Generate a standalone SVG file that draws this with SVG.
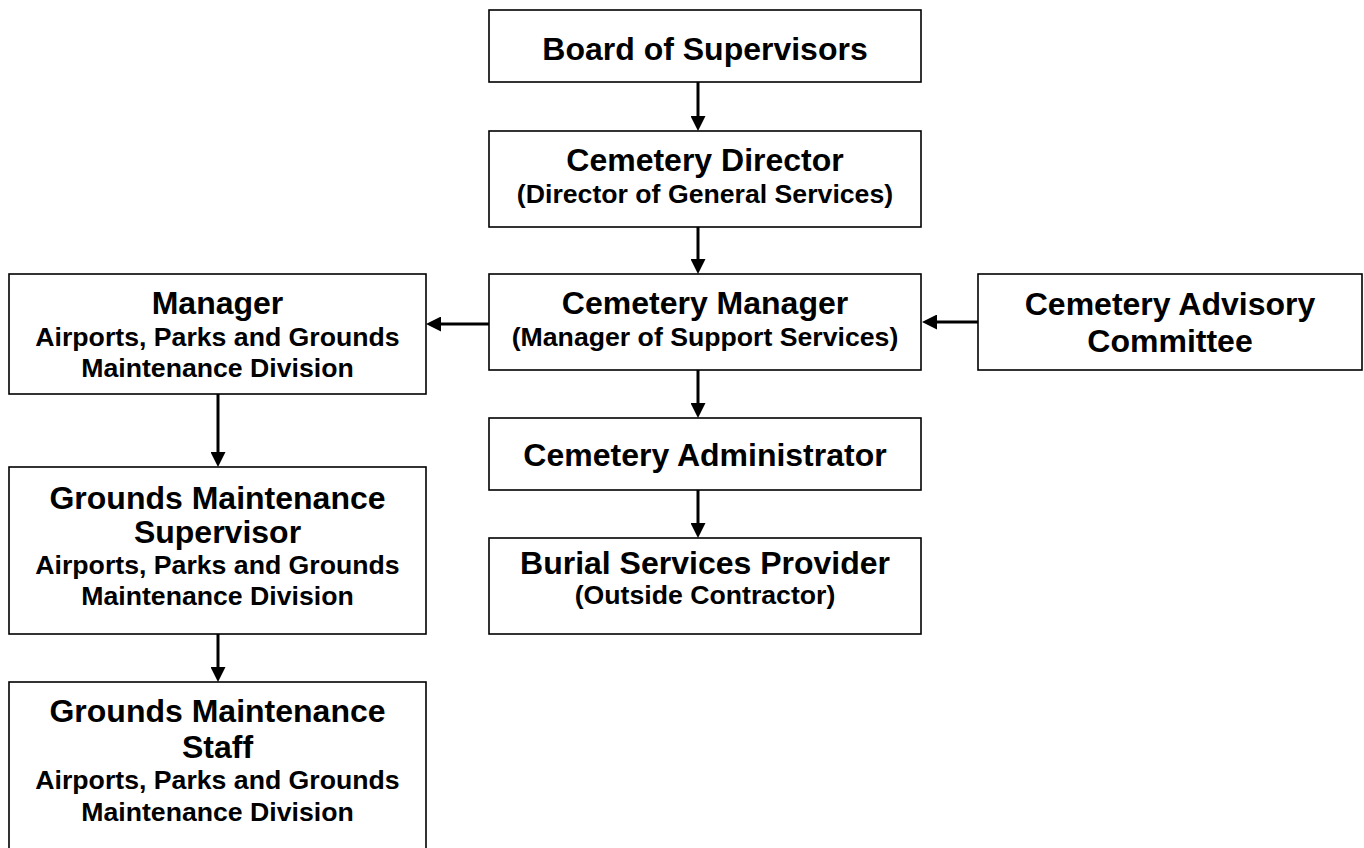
<svg xmlns="http://www.w3.org/2000/svg" width="1364" height="848" viewBox="0 0 1364 848">
<style>
.box{fill:#fff;stroke:#000;stroke-width:1.6}
.t{font-family:"Liberation Sans",Arial,sans-serif;font-weight:bold;fill:#000;text-anchor:middle}
.h{font-size:32px}
.s{font-size:26.67px}
.c{stroke:#000;stroke-width:3;fill:none;marker-end:url(#ah)}
</style>
<defs>
<marker id="ah" markerUnits="userSpaceOnUse" markerWidth="15" markerHeight="15" refX="5" refY="7.5" orient="auto">
<path d="M0,0 L15,7.5 L0,15 z" fill="#000"/>
</marker>
</defs>
<rect width="1364" height="848" fill="#fff"/>
<g id="connectors">
<line class="c" x1="698" y1="82" x2="698" y2="121"/>
<line class="c" x1="698" y1="227" x2="698" y2="264"/>
<line class="c" x1="698" y1="370" x2="698" y2="408"/>
<line class="c" x1="698" y1="490" x2="698" y2="528"/>
<line class="c" x1="489" y1="324" x2="436" y2="324"/>
<line class="c" x1="978" y1="322" x2="932" y2="322"/>
<line class="c" x1="218" y1="394" x2="218" y2="457"/>
<line class="c" x1="218" y1="634" x2="218" y2="672"/>
</g>
<g id="board">
<rect class="box" x="489" y="10" width="432" height="72"/>
<text class="t h" x="705" y="60">Board of Supervisors</text>
</g>
<g id="director">
<rect class="box" x="489" y="131" width="432" height="96"/>
<text class="t h" x="705" y="171">Cemetery Director</text>
<text class="t s" x="705" y="203">(Director of General Services)</text>
</g>
<g id="cemetery-manager">
<rect class="box" x="489" y="274" width="432" height="96"/>
<text class="t h" x="705" y="314">Cemetery Manager</text>
<text class="t s" x="705" y="346">(Manager of Support Services)</text>
</g>
<g id="advisory">
<rect class="box" x="978" y="274" width="384" height="96"/>
<text class="t h" x="1170" y="315">Cemetery Advisory</text>
<text class="t h" x="1170" y="352">Committee</text>
</g>
<g id="administrator">
<rect class="box" x="489" y="418" width="432" height="72"/>
<text class="t h" x="705" y="466">Cemetery Administrator</text>
</g>
<g id="burial">
<rect class="box" x="489" y="538" width="432" height="96"/>
<text class="t h" x="705" y="574">Burial Services Provider</text>
<text class="t s" x="705" y="604">(Outside Contractor)</text>
</g>
<g id="apgm-manager">
<rect class="box" x="9" y="274" width="417" height="120"/>
<text class="t h" x="217.5" y="314">Manager</text>
<text class="t s" x="217.5" y="346">Airports, Parks and Grounds</text>
<text class="t s" x="217.5" y="377">Maintenance Division</text>
</g>
<g id="gm-supervisor">
<rect class="box" x="9" y="467" width="417" height="167"/>
<text class="t h" x="217.5" y="509">Grounds Maintenance</text>
<text class="t h" x="217.5" y="543">Supervisor</text>
<text class="t s" x="217.5" y="574">Airports, Parks and Grounds</text>
<text class="t s" x="217.5" y="605">Maintenance Division</text>
</g>
<g id="gm-staff">
<rect class="box" x="9" y="682" width="417" height="180"/>
<text class="t h" x="217.5" y="722">Grounds Maintenance</text>
<text class="t h" x="217.5" y="758">Staff</text>
<text class="t s" x="217.5" y="789">Airports, Parks and Grounds</text>
<text class="t s" x="217.5" y="821">Maintenance Division</text>
</g>
</svg>
